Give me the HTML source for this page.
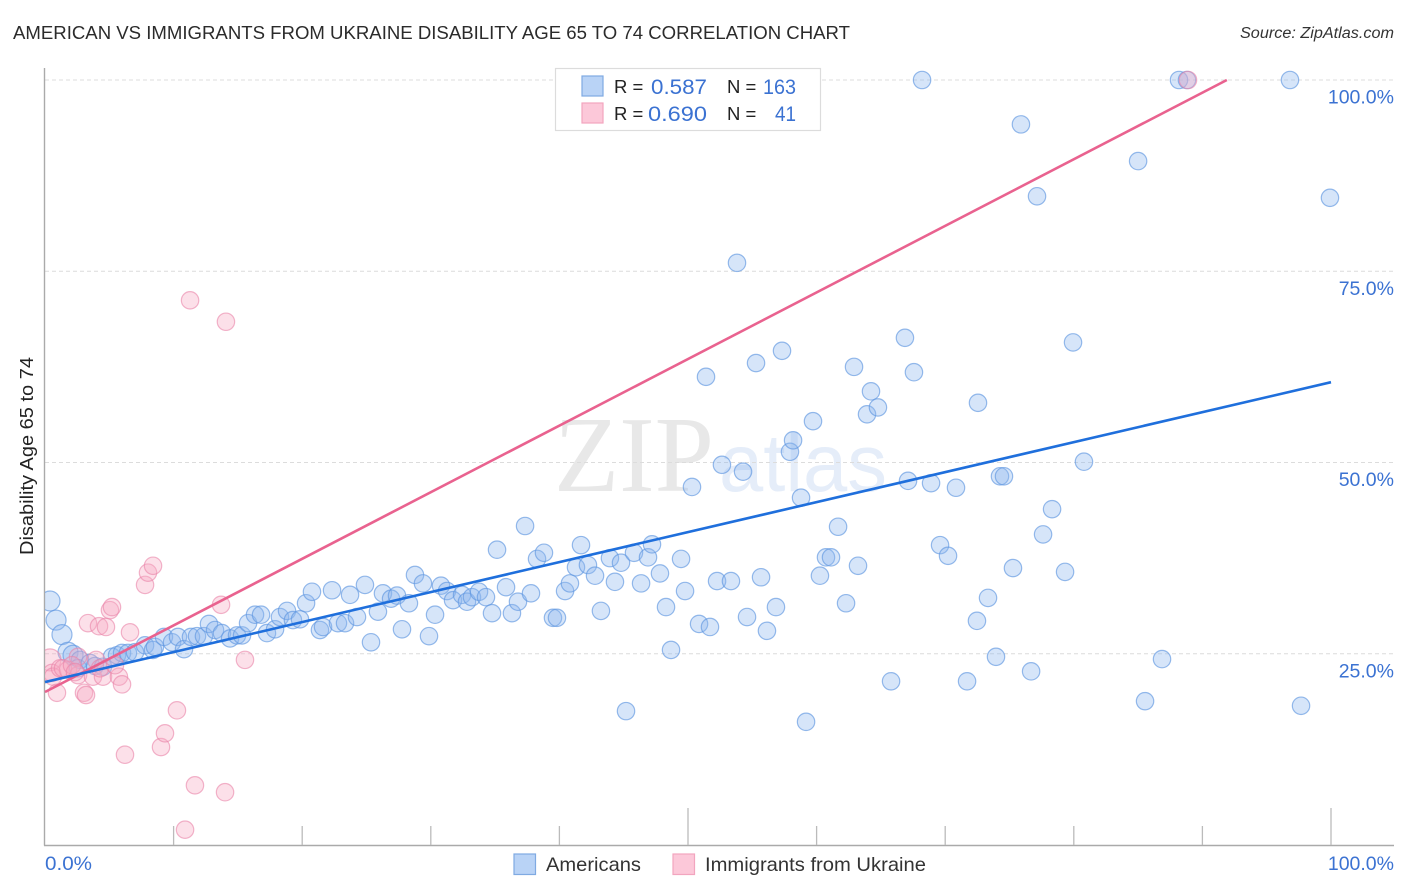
<!DOCTYPE html>
<html lang="en">
<head>
<meta charset="utf-8">
<title>American vs Immigrants from Ukraine Disability Age 65 to 74 Correlation Chart</title>
<style>
html,body{margin:0;padding:0;background:#fff;width:1406px;height:892px;overflow:hidden}
svg{display:block;font-family:"Liberation Sans",sans-serif}
</style>
</head>
<body>
<svg id="chart" xmlns="http://www.w3.org/2000/svg" width="1406" height="892" viewBox="0 0 1406 892">
  <defs><clipPath id="plot-clip"><rect x="45" y="60" width="1349" height="785"/></clipPath></defs>
  <rect width="1406" height="892" fill="#ffffff"/>
  <text x="13" y="39" font-size="18.5" fill="#2b2b2b" textLength="837" lengthAdjust="spacingAndGlyphs">AMERICAN VS IMMIGRANTS FROM UKRAINE DISABILITY AGE 65 TO 74 CORRELATION CHART</text>
  <text x="1240" y="38" font-size="15.5" font-style="italic" fill="#333" textLength="154" lengthAdjust="spacingAndGlyphs">Source: ZipAtlas.com</text>
  <g id="watermark">
    <text x="554" y="491" font-family="'Liberation Serif',serif" font-size="108" fill="#e8e8e8" textLength="160" lengthAdjust="spacingAndGlyphs">ZIP</text>
    <text x="719" y="491" font-size="82" fill="#e5edf9" textLength="168" lengthAdjust="spacingAndGlyphs">atlas</text>
  </g>
  <g id="grid"></g>
  <g id="axes"></g>
  <g id="points-blue" clip-path="url(#plot-clip)"></g>
  <g id="points-pink" clip-path="url(#plot-clip)"></g>
  <g id="trends"></g>
  <g id="tick-labels"></g>
  <text transform="translate(33,555) rotate(-90)" font-size="18.5" fill="#222" textLength="198" lengthAdjust="spacingAndGlyphs">Disability Age 65 to 74</text>

  <g>
    <rect x="555.5" y="68.5" width="265" height="62" fill="#fff" stroke="#dcdcdc" stroke-width="1.2"/>
    <rect x="582" y="76" width="21" height="20" fill="#b9d3f6" stroke="#7faae2" stroke-width="1.2"/>
    <rect x="582" y="103" width="21" height="20" fill="#fcc8d9" stroke="#f2a5bf" stroke-width="1.2"/>
    <text x="614" y="93" font-size="18.5" fill="#222">R =</text>
    <text x="651" y="94" font-size="21" fill="#3b72d2" textLength="56" lengthAdjust="spacingAndGlyphs">0.587</text>
    <text x="727" y="93" font-size="18.5" fill="#222">N =</text>
    <text x="763" y="94" font-size="21" fill="#3b72d2" textLength="33" lengthAdjust="spacingAndGlyphs">163</text>
    <text x="614" y="120" font-size="18.5" fill="#222">R =</text>
    <text x="648" y="121" font-size="21" fill="#3b72d2" textLength="59" lengthAdjust="spacingAndGlyphs">0.690</text>
    <text x="727" y="120" font-size="18.5" fill="#222">N =</text>
    <text x="775" y="121" font-size="21" fill="#3b72d2" textLength="21" lengthAdjust="spacingAndGlyphs">41</text>
  </g>

  <g>
    <rect x="514" y="854" width="21.5" height="20.5" fill="#b9d3f6" stroke="#7faae2" stroke-width="1.2"/>
    <text x="546" y="871" font-size="19.5" fill="#333" textLength="95" lengthAdjust="spacingAndGlyphs">Americans</text>
    <rect x="673" y="854" width="21.5" height="20.5" fill="#fcc8d9" stroke="#f2a5bf" stroke-width="1.2"/>
    <text x="705" y="871" font-size="19.5" fill="#333" textLength="221" lengthAdjust="spacingAndGlyphs">Immigrants from Ukraine</text>
  </g>
</svg>
<script>
const americansX = [0.39,0.86,1.32,1.79,2.18,2.72,2.57,3.50,3.89,4.51,5.21,5.60,5.99,6.45,7.00,7.78,8.40,8.55,9.25,9.88,10.34,10.81,11.35,11.82,12.36,12.75,13.22,13.76,14.39,14.93,15.32,15.79,16.33,16.80,17.26,17.89,18.27,18.82,19.28,19.83,20.30,20.76,21.38,21.62,22.32,22.78,23.33,23.72,24.88,24.26,25.89,26.28,26.91,27.37,28.30,27.76,29.86,30.33,25.35,28.77,29.39,30.79,31.26,31.73,32.43,32.81,33.20,33.75,34.29,34.76,35.15,35.85,36.31,36.78,37.79,37.33,38.26,38.80,39.50,39.81,40.44,40.82,41.29,41.68,42.22,42.77,43.23,43.93,44.32,44.79,45.18,45.80,46.35,46.89,47.20,47.82,48.29,48.68,49.46,49.77,50.86,51.71,52.26,53.34,54.59,50.31,51.40,52.64,54.28,53.81,55.29,57.31,57.93,58.17,59.72,58.79,61.67,60.73,61.12,60.26,55.68,56.84,56.14,62.29,63.22,59.18,62.91,64.23,63.92,64.77,66.87,67.57,67.11,68.90,70.84,72.55,74.26,74.57,80.79,79.94,69.60,70.22,78.31,77.61,75.27,79.32,73.33,72.47,73.95,71.70,65.79,76.68,86.86,85.54,97.67,99.92,85.00,77.14,75.89,68.20,88.18,88.80,96.81];
const americansY = [31.9,29.4,27.5,25.2,24.8,24.2,23.1,23.8,23.4,23.3,24.6,24.8,25.1,25.1,25.2,26.1,25.5,25.9,27.2,26.5,27.2,25.6,27.2,27.3,27.3,28.9,28.1,27.7,27.0,27.4,27.4,29.0,30.1,30.1,27.7,28.2,29.8,30.6,29.4,29.5,31.6,33.1,28.1,28.5,33.3,29.0,29.0,32.7,34.0,29.8,30.5,32.9,32.2,32.6,31.6,28.2,27.3,30.1,26.5,35.3,34.2,33.9,33.2,32.0,32.7,31.8,32.4,33.1,32.4,30.3,38.6,33.7,30.3,31.8,32.9,41.7,37.4,38.2,29.7,29.7,33.2,34.2,36.3,39.2,36.6,35.2,30.6,37.5,34.4,36.9,17.5,38.2,34.2,37.6,39.3,35.5,31.1,25.5,37.4,33.2,28.9,28.5,34.5,34.5,29.8,46.8,61.2,49.7,48.8,76.1,63.0,64.6,51.4,52.9,55.4,45.4,41.6,37.6,37.6,35.2,35.0,31.1,28.0,31.6,36.5,16.1,62.5,59.3,56.3,57.2,66.3,61.8,47.6,47.3,46.7,57.8,48.2,48.2,50.1,65.7,39.2,37.8,43.9,40.6,36.2,35.7,32.3,29.3,24.6,21.4,21.4,22.7,24.3,18.8,18.2,84.6,89.4,84.8,94.2,100,100,100,100];
const ukraineX = [0.39,0.54,0.62,0.93,1.17,1.79,2.57,2.57,3.03,3.19,3.34,3.73,3.97,4.20,4.51,4.74,5.05,5.21,5.75,5.99,6.61,7.78,8.01,8.40,6.22,9.02,9.33,10.26,10.89,11.66,14.00,13.69,15.55,11.28,14.07,88.88,1.40,2.10,2.33,4.28,5.44];
const ukraineY = [24.2,22.5,22.0,19.9,23.1,22.9,22.2,24.6,19.9,19.6,29.0,22.0,24.2,28.6,22.0,28.5,30.7,31.1,22.0,21.0,27.8,34.0,35.6,36.5,11.8,12.8,14.6,17.6,2.0,7.8,6.9,31.4,24.2,71.2,68.4,100,23.1,23.5,22.6,23.1,23.5];
const americansTrendX = [0,100];
const americansTrendY = [21.3,60.5];
const ukraineTrendX = [0,91.9];
const ukraineTrendY = [20,100];
const yTickValues = [100,75,50,25];
const yTickLabels = ["100.0%","75.0%","50.0%","25.0%"];
const xTickValues = [10,20,30,40,50,60,70,80,90,100];
const xEndLabels = ["0.0%","100.0%"];

const NS = "http://www.w3.org/2000/svg";
const xScale = v => 45 + v * 12.86;
const yScale = v => 845 - v * 7.65;
function make(tag, attrs, parentId) {
  const el = document.createElementNS(NS, tag);
  for (const k in attrs) el.setAttribute(k, attrs[k]);
  document.getElementById(parentId).appendChild(el);
  return el;
}

yTickValues.forEach(v => {
  const el = make("line", {x1:45, x2:1394, y1:yScale(v), y2:yScale(v), stroke:"#dcdcdc", "stroke-width":1, "stroke-dasharray":"4 3"}, "grid");
  
  
});

const yAxis = make("line", {x1:44.5, x2:44.5, y1:68, y2:845.5, stroke:"#aaaaaa", "stroke-width":1.4}, "axes");


const xAxis = make("line", {x1:44, x2:1394, y1:845.5, y2:845.5, stroke:"#aaaaaa", "stroke-width":1.4}, "axes");


xTickValues.forEach(v => {
  const top = v % 50 === 0 ? 808 : 826;
  const el = make("line", {x1:xScale(v), x2:xScale(v), y1:top, y2:845, stroke:"#bbbbbb", "stroke-width":1.3}, "axes");
  
  
});

americansX.forEach((x, i) => {
  const r = x < 2.5 ? 10 : 8.7;
  const el = make("circle", {cx:xScale(x), cy:yScale(americansY[i]), r:r, fill:"#8db8ee", "fill-opacity":0.36, stroke:"#5f97e0", "stroke-opacity":0.65, "stroke-width":1.2}, "points-blue");
  
  
});
ukraineX.forEach((x, i) => {
  const r = x < 0.5 ? 11 : 8.7;
  const el = make("circle", {cx:xScale(x), cy:yScale(ukraineY[i]), r:r, fill:"#f7a8c2", "fill-opacity":0.36, stroke:"#ea84a8", "stroke-opacity":0.6, "stroke-width":1.2}, "points-pink");
  
  
});

const trendPink = make("line", {x1:xScale(ukraineTrendX[0]), y1:yScale(ukraineTrendY[0]), x2:xScale(ukraineTrendX[1]), y2:yScale(ukraineTrendY[1]), stroke:"#e9628f", "stroke-width":2.6}, "trends");


const trendBlue = make("line", {x1:xScale(americansTrendX[0]), y1:yScale(americansTrendY[0]), x2:xScale(americansTrendX[1]), y2:yScale(americansTrendY[1]), stroke:"#1f6fdc", "stroke-width":2.6}, "trends");



yTickValues.forEach((v, i) => {
  const el = make("text", {x:1394, y:yScale(v) + 23.5, "font-size":19.5, fill:"#3b72d2", "text-anchor":"end"}, "tick-labels");
  
  
  el.textContent = yTickLabels[i];
});
const x0Label = make("text", {x:45, y:870, "font-size":19.5, fill:"#3b72d2", textLength:47, lengthAdjust:"spacingAndGlyphs"}, "tick-labels");


x0Label.textContent = xEndLabels[0];
const x100Label = make("text", {x:1394, y:870, "font-size":19.5, fill:"#3b72d2", "text-anchor":"end"}, "tick-labels");


x100Label.textContent = xEndLabels[1];
</script>
</body>
</html>
